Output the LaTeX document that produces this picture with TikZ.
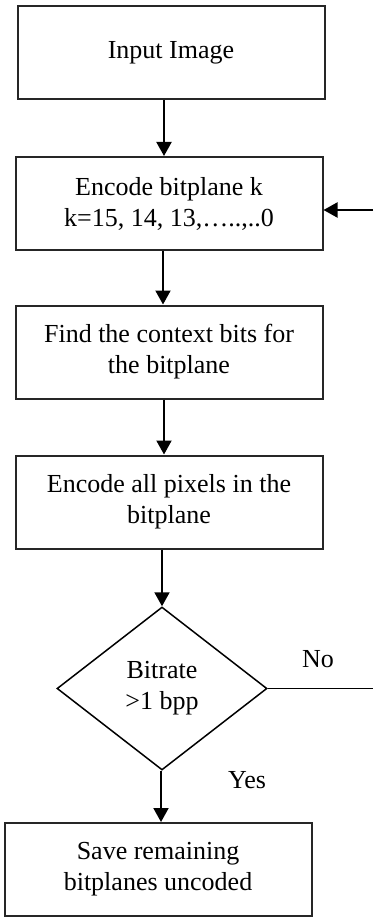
\documentclass[tikz,border=0pt]{standalone}
\usepackage{fontspec}
\setmainfont{Liberation Serif}
\usetikzlibrary{arrows.meta,shapes.geometric}
\begin{document}
\begin{tikzpicture}[x=1pt,y=-1pt,
  font=\fontsize{26}{31}\selectfont,
  procbox/.style={draw=black!85,line width=2pt,minimum width=307pt,minimum height=93pt,align=center,inner sep=0pt},
  decide/.style={draw=black,line width=1.5pt,diamond,minimum width=210pt,minimum height=163pt,align=center,inner sep=0pt,aspect=1.29},
  arr/.style={line width=2pt,-{Triangle[length=14pt,width=15pt]}},
  lbl/.style={anchor=base,inner sep=0pt}]
\useasboundingbox (0,0) rectangle (373,917);
\node[procbox] (b1) at (171,53) {Input Image};
\node[procbox] (b2) at (169,203.5) {Encode bitplane k\\k=15, 14, 13,…..,..0};
\node[procbox] (b3) at (169,352) {Find the context bits for\\the bitplane};
\node[procbox] (b4) at (169,502) {Encode all pixels in the\\bitplane};
\node[decide] (d) at (162,688.5) {Bitrate\\>1 bpp};
\node[procbox] (b5) at (158,869.5) {Save remaining\\bitplanes uncoded};
\node[lbl] (no) at (318,667) {No};
\node[lbl] (yes) at (247,788) {Yes};
\coordinate (noend) at (373,688.5);
\coordinate (fb) at (373,210);
\draw[arr] (b1.south -| 164,0) -- (b2.north -| 164,0);
\draw[arr] (b2.south -| 163,0) -- (b3.north -| 163,0);
\draw[arr] (b3.south -| 164,0) -- (b4.north -| 164,0);
\draw[arr] (b4.south -| d.north) -- (d.north);
\draw[arr] (d.south -| 161,0) -- (b5.north -| 161,0);
\draw[line width=1.5pt] (d.east) -- (noend);
\draw[arr] (fb) -- (fb -| b2.east);
\end{tikzpicture}
\end{document}
